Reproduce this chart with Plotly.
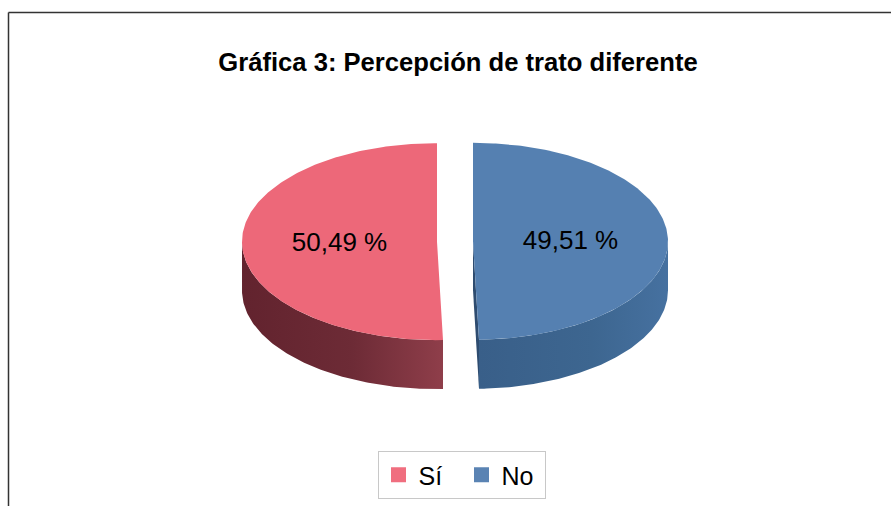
import numpy as np
import plotly.graph_objects as go

# ---- data ----
categories = ["Sí", "No"]
values = [50.49, 49.51]
value_labels = ["50,49 %", "49,51 %"]
title_text = "Gráfica 3: Percepción de trato diferente"

# ---- styling ----
top_colors = ["#ED6879", "#5580B1"]
legend_colors = ["#F06E7F", "#5A83B3"]
wall_scales = [
    [[0, "#62232e"], [0.55, "#6d2b36"], [1, "#8f3e4a"]],
    [[0, "#395f89"], [0.6, "#3d6690"], [1, "#4671a0"]],
]
cut_colors = ["#7a3340", "#2e4c70"]

W, H = 891, 506
cx, cy = 455.0, 241.5
a, b = 195.0, 98.5
depth = 49.0
explode = 18.0 / a
start = 90.0
FONT = "Liberation Sans, Arial, sans-serif"

total = sum(values)
fig = go.Figure()


def rim(theta_deg, ox, oy, dz=0.0):
    t = np.radians(theta_deg)
    return cx + ox + a * np.cos(t), cy + oy - b * np.sin(t) + dz


slices = []
cum = 0.0
for i, v in enumerate(values):
    t0 = start + cum / total * 360.0
    t1 = start + (cum + v) / total * 360.0
    cum += v
    mid = np.radians((t0 + t1) / 2)
    ox = explode * a * np.cos(mid)
    oy = -explode * b * np.sin(mid)
    slices.append((t0, t1, ox, oy, mid))

# side walls and cut faces
for i, (t0, t1, ox, oy, mid) in enumerate(slices):
    for k in (0.0, 360.0):
        lo, hi = max(t0, 180.0 + k), min(t1, 360.0 + k)
        if hi > lo:
            th = np.linspace(lo, hi, 120)
            xt, yt = rim(th, ox, oy)
            xb, yb = rim(th[::-1], ox, oy, depth)
            fig.add_trace(go.Scatter(
                x=np.concatenate([xt, xb, xt[:1]]),
                y=np.concatenate([yt, yb, yt[:1]]),
                mode="lines", line=dict(width=0), fill="toself",
                fillgradient=dict(type="horizontal", colorscale=wall_scales[i]),
                hoverinfo="skip", showlegend=False))
    for th, nrm in ((t0, t0 - 90.0), (t1, t1 + 90.0)):
        if np.sin(np.radians(nrm)) < -1e-6:
            xr, yr = rim(th, ox, oy)
            xs = [cx + ox, xr, xr, cx + ox, cx + ox]
            ys = [cy + oy, yr, yr + depth, cy + oy + depth, cy + oy]
            fig.add_trace(go.Scatter(
                x=xs, y=ys, mode="lines", line=dict(width=0), fill="toself",
                fillcolor=cut_colors[i], hoverinfo="skip", showlegend=False))

# top faces
for i, (t0, t1, ox, oy, mid) in enumerate(slices):
    th = np.linspace(t0, t1, 240)
    xr, yr = rim(th, ox, oy)
    xs = np.concatenate([[cx + ox], xr, [cx + ox]])
    ys = np.concatenate([[cy + oy], yr, [cy + oy]])
    fig.add_trace(go.Scatter(
        x=xs, y=ys, mode="lines", line=dict(width=0), fill="toself",
        fillcolor=top_colors[i], hoverinfo="skip", showlegend=False))

# value labels
lx, ly = [], []
for (t0, t1, ox, oy, mid) in slices:
    lx.append(cx + ox + 0.5 * a * np.cos(mid))
    ly.append(cy + oy - 0.5 * b * np.sin(mid) + 2)
fig.add_trace(go.Scatter(
    x=lx, y=ly, mode="text", text=value_labels,
    textfont=dict(family=FONT, size=26, color="#000000"),
    hoverinfo="skip", showlegend=False))

# legend entries
for i, c in enumerate(categories):
    fig.add_trace(go.Scatter(
        x=[None], y=[None], mode="markers", name=c,
        marker=dict(symbol="square", size=15, color=legend_colors[i])))

fig.update_layout(
    width=W, height=H,
    margin=dict(l=0, r=0, t=0, b=0),
    paper_bgcolor="white", plot_bgcolor="white",
    xaxis=dict(range=[0, W], visible=False, fixedrange=True),
    yaxis=dict(range=[H, 0], visible=False, fixedrange=True),
    title=dict(text="<b>" + title_text + "</b>", x=458 / W, xanchor="center",
               y=1 - 62 / H, yanchor="middle",
               font=dict(family=FONT, size=25.6, color="#000000")),
    legend=dict(orientation="h", x=461.5 / W, xanchor="center",
                y=1 - 499 / H, yanchor="bottom",
                font=dict(family=FONT, size=25, color="#000000"),
                bordercolor="#c8c8c8", borderwidth=1, bgcolor="white",
                itemwidth=30, entrywidth=38, tracegroupgap=0),
    shapes=[
        dict(type="line", xref="x", yref="y", x0=8.5, y0=12.5, x1=W + 5, y1=12.5,
             line=dict(color="#333333", width=1.5)),
        dict(type="line", xref="x", yref="y", x0=8.5, y0=12.5, x1=8.5, y1=H + 5,
             line=dict(color="#333333", width=1.5)),
    ],
    showlegend=True,
)

fig.write_html("out.html", config={"displayModeBar": False},
               post_script="document.body.style.margin='0px';document.body.style.overflow='hidden';")
